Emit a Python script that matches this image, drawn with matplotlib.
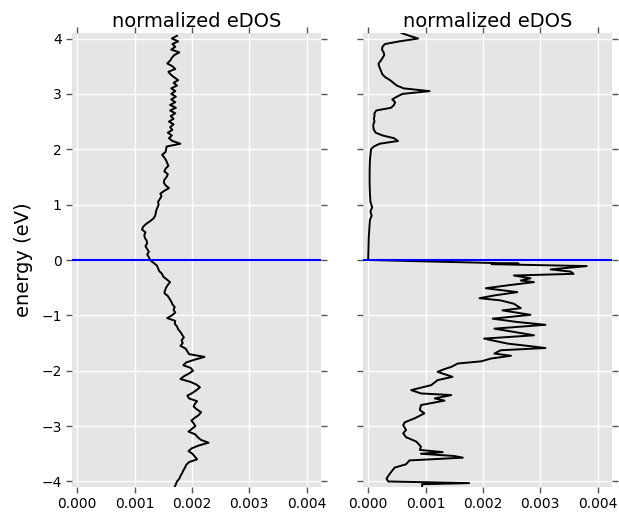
import matplotlib
matplotlib.use("Agg")
import matplotlib.pyplot as plt
import numpy as np

# ---------------- data (DOS values in units of 1e-3) ----------------
energy_left = [
    4.05, 4.00, 3.95, 3.90, 3.85, 3.80, 3.75, 3.70, 3.65, 3.60,
    3.55, 3.50, 3.45, 3.40, 3.35, 3.30, 3.25, 3.20, 3.15, 3.10,
    3.05, 3.00, 2.95, 2.90, 2.85, 2.80, 2.75, 2.70, 2.65, 2.60,
    2.55, 2.50, 2.45, 2.40, 2.35, 2.30, 2.25, 2.20, 2.15, 2.10,
    2.05,
    2.00, 1.95, 1.90, 1.85, 1.80, 1.75, 1.70, 1.65, 1.60, 1.55,
    1.50, 1.45, 1.40, 1.35, 1.30, 1.25, 1.20, 1.15, 1.10, 1.05,
    1.00, 0.95, 0.90, 0.85, 0.80, 0.75, 0.70, 0.65, 0.60, 0.55,
    0.50, 0.45, 0.40, 0.35, 0.30, 0.25, 0.20, 0.15, 0.10, 0.05,
    0.00,
    -0.05, -0.10, -0.15, -0.20, -0.25, -0.30, -0.35, -0.40, -0.45, -0.50,
    -0.55, -0.60, -0.65, -0.70, -0.75, -0.80, -0.85, -0.90, -0.95, -1.00,
    -1.05, -1.10, -1.15, -1.20, -1.25, -1.30, -1.35, -1.40, -1.45, -1.50,
    -1.55, -1.60, -1.65, -1.70, -1.75, -1.80, -1.85, -1.90, -1.95, -2.00,
    -2.05, -2.10, -2.15, -2.20, -2.25, -2.30, -2.35, -2.40, -2.45, -2.50,
    -2.55, -2.60, -2.65, -2.70, -2.75, -2.80, -2.85, -2.90, -2.95, -3.00,
    -3.05, -3.10, -3.15, -3.20, -3.25, -3.30, -3.35, -3.40, -3.45, -3.50,
    -3.55, -3.60, -3.65, -3.70, -3.75, -3.80, -3.85, -3.90, -3.95, -4.00,
    -4.05, -4.10,
]
dos_left_milli = [
    1.74, 1.65, 1.76, 1.66, 1.71, 1.64, 1.78, 1.69, 1.65, 1.62,
    1.57, 1.66, 1.71, 1.59, 1.63, 1.69, 1.76, 1.68, 1.74, 1.64,
    1.71, 1.64, 1.72, 1.64, 1.71, 1.62, 1.72, 1.62, 1.71, 1.63,
    1.68, 1.60, 1.68, 1.62, 1.66, 1.58, 1.65, 1.60, 1.66, 1.80,
    1.56,
    1.55, 1.54, 1.48, 1.52, 1.55, 1.57, 1.59, 1.54, 1.52, 1.58,
    1.56, 1.52, 1.51, 1.54, 1.60, 1.52, 1.45, 1.47, 1.44, 1.41,
    1.42, 1.40, 1.38, 1.37, 1.36, 1.33, 1.27, 1.20, 1.15, 1.13,
    1.19, 1.17, 1.18, 1.21, 1.22, 1.19, 1.22, 1.25, 1.22, 1.25,
    1.27,
    1.33, 1.39, 1.41, 1.43, 1.48, 1.50, 1.56, 1.62, 1.58, 1.55,
    1.53, 1.52, 1.58, 1.61, 1.64, 1.66, 1.70, 1.68, 1.71, 1.65,
    1.57, 1.71, 1.70, 1.74, 1.76, 1.80, 1.83, 1.86, 1.82, 1.84,
    1.80, 1.89, 1.92, 1.95, 2.22, 2.05, 1.90, 1.85, 1.98, 2.02,
    1.95, 1.86, 1.80, 1.97, 2.08, 2.14, 2.08, 2.01, 1.92, 1.95,
    2.09, 2.05, 2.03, 2.09, 2.16, 2.12, 2.05, 1.99, 2.03, 2.06,
    2.00, 1.94, 2.06, 2.10, 2.16, 2.29, 2.12, 2.00, 1.94, 2.01,
    2.05, 2.09, 1.95, 1.90, 1.88, 1.85, 1.83, 1.80, 1.78, 1.74,
    1.72, 1.70,
]

energy_right = [
    4.10, 4.05, 4.00, 3.95, 3.90, 3.85, 3.80, 3.75, 3.70, 3.65,
    3.60, 3.55, 3.50, 3.45, 3.40, 3.35, 3.30, 3.25, 3.20, 3.15,
    3.10, 3.05, 3.00, 2.95, 2.90, 2.85, 2.80, 2.75, 2.70, 2.65,
    2.60, 2.55, 2.50, 2.45, 2.40, 2.35, 2.30, 2.25, 2.20, 2.15,
    2.10, 2.05, 2.00, 1.90, 1.80, 1.60, 1.40, 1.20, 1.05, 0.95,
    0.88, 0.80, 0.72, 0.55, 0.40, 0.20, 0.02, 0.00,
    -0.065, -0.075, -0.085, -0.11, -0.17, -0.21, -0.25, -0.28, -0.33, -0.37,
    -0.40, -0.45, -0.51, -0.55, -0.58, -0.64, -0.69, -0.73, -0.79, -0.87,
    -0.91, -0.99, -1.06, -1.12, -1.17, -1.24, -1.31, -1.36, -1.42, -1.51,
    -1.55, -1.59, -1.63, -1.69, -1.73, -1.78, -1.83, -1.87, -1.93, -1.97,
    -2.02, -2.11, -2.17, -2.26, -2.35, -2.41, -2.44, -2.50, -2.54, -2.62,
    -2.71, -2.77, -2.86, -2.93, -2.98, -3.07, -3.13, -3.20, -3.28, -3.37,
    -3.43, -3.47, -3.50, -3.54, -3.57, -3.62, -3.69, -3.75, -3.83, -3.90,
    -3.95, -4.00, -4.03, -4.05, -4.12,
]
dos_right_milli = [
    0.58, 0.72, 0.87, 0.55, 0.29, 0.25, 0.24, 0.27, 0.28, 0.25,
    0.22, 0.18, 0.19, 0.21, 0.23, 0.25, 0.30, 0.38, 0.44, 0.50,
    0.62, 1.07, 0.60, 0.50, 0.42, 0.47, 0.45, 0.40, 0.14, 0.11,
    0.11, 0.10, 0.11, 0.09, 0.09, 0.10, 0.13, 0.25, 0.45, 0.52,
    0.20, 0.10, 0.05, 0.04, 0.03, 0.025, 0.025, 0.03, 0.04, 0.07,
    0.04, 0.06, 0.03, 0.02, 0.01, 0.005, 0.0, 0.0,
    2.62, 2.15, 2.60, 3.81, 3.18, 3.53, 3.58, 2.54, 2.83, 2.66,
    2.89, 2.49, 2.05, 2.37, 2.60, 2.20, 1.94, 2.31, 2.54, 2.66,
    2.34, 2.83, 2.17, 2.60, 3.09, 2.20, 2.60, 2.89, 2.02, 2.43,
    2.77, 3.09, 2.31, 2.20, 2.49, 2.14, 1.97, 1.56, 1.45, 1.33,
    1.21, 1.47, 1.21, 1.10, 0.75, 0.92, 1.45, 1.16, 1.33, 0.92,
    0.90, 0.98, 0.81, 0.64, 0.61, 0.66, 0.61, 0.66, 0.84, 0.92,
    0.90, 1.30, 0.92, 1.50, 1.65, 0.72, 0.66, 0.46, 0.40, 0.35,
    0.32, 0.35, 1.76, 0.94, 0.94,
]

title_text = "normalized eDOS"
ylabel_text = "energy (eV)"
xticks = [0.000, 0.001, 0.002, 0.003, 0.004]
yticks = [-4, -3, -2, -1, 0, 1, 2, 3, 4]

# ---------------- figure ----------------
W, H = 619, 515
fig = plt.figure(figsize=(W / 100, H / 100), dpi=100)
ax1 = fig.add_axes([72 / W, 1 - 487 / H, 249 / W, 454 / H])
ax2 = fig.add_axes([363 / W, 1 - 487 / H, 249 / W, 454 / H])

series = [
    (ax1, energy_left, dos_left_milli),
    (ax2, energy_right, dos_right_milli),
]

for ax, en, dos in series:
    ax.set_facecolor("#E5E5E5")
    for s in ax.spines.values():
        s.set_visible(False)
    ax.grid(True, color="white", linewidth=1.0, linestyle="-")
    ax.set_axisbelow(True)
    ax.plot(np.array(dos) * 1e-3, en, color="black", linewidth=1.4, zorder=3)
    ax.axhline(0, color="blue", linewidth=1.5, zorder=4)
    ax.set_xlim(-0.00009, 0.00425)
    ax.set_ylim(-4.1, 4.1)
    ax.set_xticks(xticks)
    ax.set_xticklabels([f"{t:.3f}" for t in xticks])
    ax.set_yticks(yticks)
    ax.tick_params(direction="out", length=4, width=1, color="#555555",
                   labelcolor="black", labelsize=10,
                   top=True, right=True, bottom=True, left=True)
    ax.set_title(title_text, fontsize=14, pad=4)

ax1.set_ylabel(ylabel_text, fontsize=14, labelpad=6)
ax2.tick_params(labelleft=False)

fig.savefig("out.png", dpi=100)
